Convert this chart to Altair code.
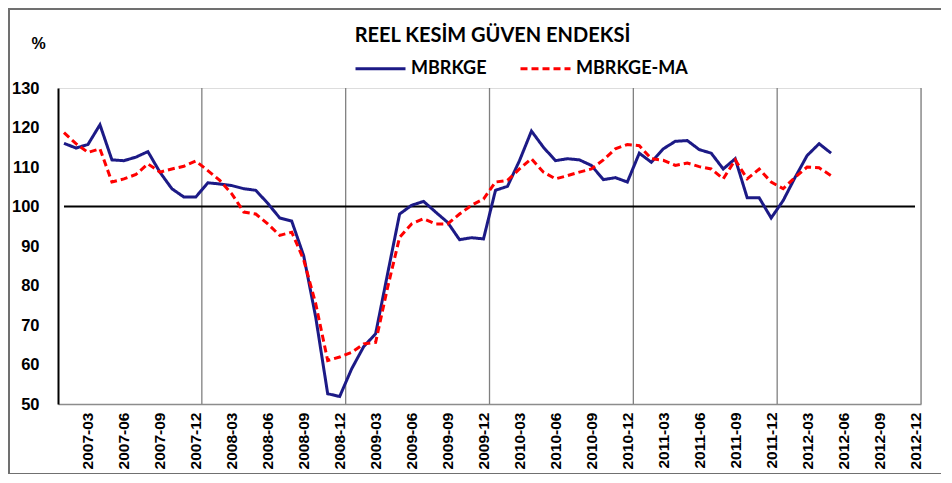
import altair as alt
import pandas as pd

years = [2007, 2008, 2009, 2010, 2011, 2012]
months = [f"{y}-{m:02d}" for y in years for m in range(1, 13)]
tick_labels = [m for m in months if int(m[-2:]) % 3 == 0]
year_ends = [f"{y}-12" for y in years]

chart_title = "REEL KESİM GÜVEN ENDEKSİ"
series_names = ["MBRKGE", "MBRKGE-MA"]

mbrkge = [
    116.0, 114.8, 115.7, 120.7, 111.8, 111.6, 112.5, 113.9, 108.7, 104.5, 102.4, 102.4,
    106.0, 105.7, 105.3, 104.5, 104.1, 100.8, 97.1, 96.3, 87.5, 72.0, 52.6, 51.9,
    58.9, 64.5, 67.8, 83.0, 98.1, 100.3, 101.3, 98.6, 96.0, 91.6, 92.1, 91.8,
    104.1, 105.1, 111.6, 119.1, 115.0, 111.6, 112.1, 111.8, 110.4, 106.8, 107.3, 106.2,
    113.5, 111.2, 114.6, 116.5, 116.7, 114.4, 113.5, 109.5, 112.1, 102.2, 102.2, 97.1,
    101.5, 107.4, 112.9, 115.9, 113.5,
]
mbrkge_ma = [
    118.7, 115.9, 113.7, 114.6, 106.2, 107.0, 108.1, 110.8, 108.7, 109.5, 110.2, 111.5,
    109.1, 106.6, 103.2, 98.6, 98.1, 95.6, 92.7, 93.5, 86.5, 75.4, 61.0, 61.9,
    63.1, 65.2, 65.6, 79.5, 92.2, 95.6, 96.9, 95.6, 95.6, 98.1, 100.3, 101.9,
    106.2, 106.6, 109.5, 112.1, 108.7, 107.0, 107.8, 108.7, 109.5, 111.8, 114.6, 115.7,
    115.4, 112.1, 111.7, 110.4, 111.0, 110.1, 109.5, 107.0, 111.8, 107.0, 109.5, 106.2,
    104.5, 107.4, 110.0, 109.8, 107.8,
]
reference_level = [100]

n = len(mbrkge)
df = pd.DataFrame({
    "month": months[:n] + months[:n],
    "value": mbrkge + mbrkge_ma,
    "series": [series_names[0]] * n + [series_names[1]] * n,
})
grid_df = pd.DataFrame({"month": year_ends})
ref_df = pd.DataFrame({"start": [months[0]], "end": [months[-1]], "level": reference_level})
title_df = pd.DataFrame({"t": [chart_title]})

W, H = 863, 316
x_scale = alt.Scale(type="point", domain=months, padding=0.5)
y_scale = alt.Scale(domain=[50, 130], nice=False, zero=False)

x_axis = alt.Axis(
    values=tick_labels, labelAngle=270, title=None, ticks=False,
    labelFont="Liberation Sans", labelFontWeight="bold", labelFontSize=15.5,
    labelColor="#000000", labelPadding=8, domainColor="#8c8c8c", domainWidth=1.5,
    labelAlign="right", labelBaseline="middle",
)
y_axis = alt.Axis(
    values=list(range(50, 131, 10)), title="%", titleAngle=0, titleX=-20, titleY=-37,
    titleFont="Liberation Sans", titleFontSize=16, titleFontWeight="bold", titleColor="#000000",
    ticks=False, grid=False, labelFont="Liberation Sans", labelFontWeight="bold",
    labelFontSize=16.5, labelColor="#000000", labelPadding=19,
    domainColor="#000000", domainWidth=2,
)

frame = alt.Chart(title_df).mark_rect(fill=None, stroke="#707070", strokeWidth=2).encode(
    x=alt.value(-49), x2=alt.value(W + 60), y=alt.value(-79), y2=alt.value(H + 70),
)
title = alt.Chart(title_df).mark_text(
    font="Lato", fontSize=20, fontWeight="bold", color="#000000", baseline="middle", align="center",
).encode(text="t:N", x=alt.value(W / 2 + 3), y=alt.value(-52))

grid = alt.Chart(grid_df).mark_rule(color="#808080", strokeWidth=1.3, xOffset=6).encode(
    x=alt.X("month:O", scale=x_scale, axis=x_axis),
)
ref = alt.Chart(ref_df).mark_rule(color="#000000", strokeWidth=2.2).encode(
    x=alt.X("start:O", scale=x_scale),
    x2="end:O",
    y=alt.Y("level:Q", scale=y_scale, axis=y_axis),
)

legend = alt.Legend(
    title=None, orient="none", legendX=296, legendY=-46, direction="horizontal",
    symbolType="stroke", symbolSize=2500, symbolStrokeWidth=3,
    labelFont="Lato", labelFontWeight="bold", labelFontSize=18, labelColor="#000000",
    labelOffset=4, columnPadding=27,
)
lines = alt.Chart(df).mark_line(strokeWidth=3).encode(
    x=alt.X("month:O", scale=x_scale, axis=x_axis),
    y=alt.Y("value:Q", scale=y_scale, axis=y_axis),
    color=alt.Color("series:N", scale=alt.Scale(domain=series_names, range=["#1c1a86", "#ff0000"]), legend=legend),
    strokeDash=alt.StrokeDash("series:N", scale=alt.Scale(domain=series_names, range=[[1, 0], [7, 4]]), legend=legend),
)

chart = alt.layer(frame, title, grid, ref, lines).properties(
    width=W, height=H,
    autosize=alt.AutoSizeParams(type="none"),
    padding={"left": 50, "top": 80, "right": 20, "bottom": 70},
).configure_view(
    stroke="#8c8c8c", strokeWidth=1.5,
).configure(background="#ffffff")

chart.save("out.html", embed_options={"renderer": "svg", "actions": False})
